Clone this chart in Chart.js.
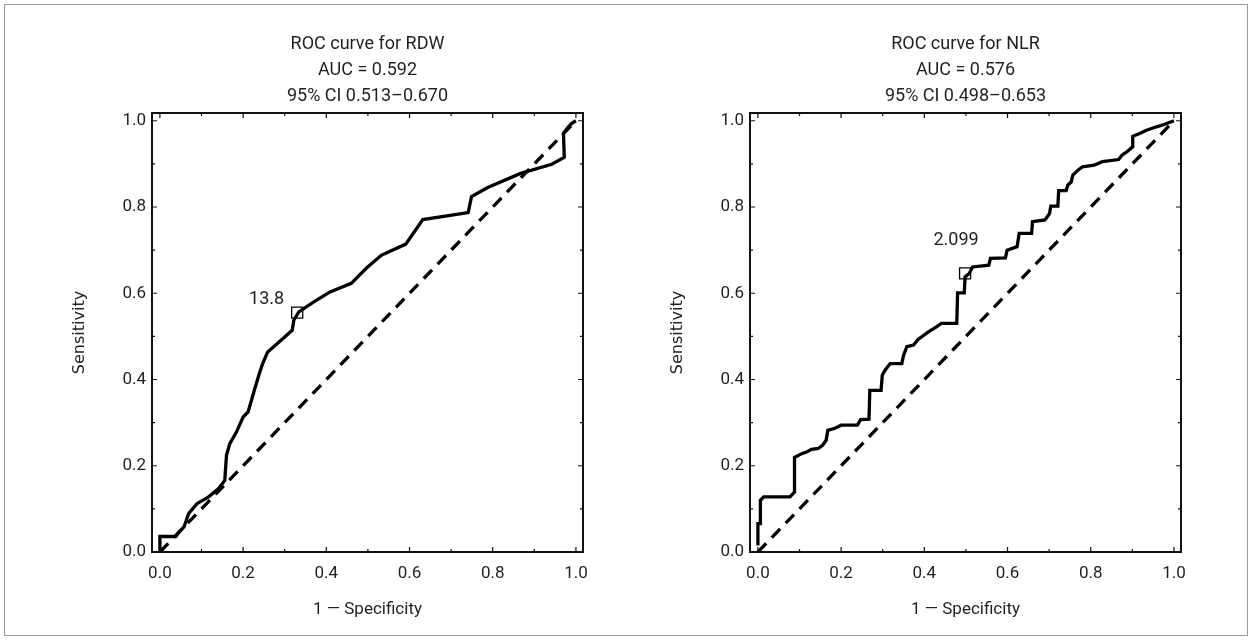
<!DOCTYPE html>
<html>
<head>
<meta charset="utf-8">
<script src="https://cdn.jsdelivr.net/npm/chart.js@4.4.1/dist/chart.umd.min.js"></script>
<style>
  html, body { margin: 0; padding: 0; background: #fff; }
  #frame { position: absolute; left: 4px; top: 4px; width: 1242px; height: 630px; border: 1.5px solid #9a9a9a; }
  .box { position: absolute; top: 0; width: 600px; height: 640px; }
</style>
</head>
<body>
<div id="frame"></div>
<div class="box" style="left:0"><canvas id="rdw-chart"></canvas></div>
<div class="box" style="left:598px"><canvas id="nlr-chart"></canvas></div>
<script>
// axis ticks
const tickValues = [0, 0.2, 0.4, 0.6, 0.8, 1.0];
const minorTicks = [0.1, 0.3, 0.5, 0.7, 0.9];

// reference diagonal
const chanceLine = [0, 1];

// ROC for RDW (1 - specificity, sensitivity)
const rdwFpr = [0.0, 0.0, 0.038, 0.046, 0.058, 0.069, 0.089, 0.117, 0.141, 0.156, 0.160, 0.168, 0.184, 0.200,
  0.212, 0.227, 0.239, 0.247, 0.259, 0.283, 0.318, 0.322, 0.334, 0.370, 0.409, 0.460, 0.496, 0.532, 0.591,
  0.632, 0.741, 0.749, 0.788, 0.867, 0.942, 0.972, 0.970, 0.982, 0.990, 1.0];
const rdwSens = [0.0, 0.036, 0.036, 0.046, 0.058, 0.089, 0.112, 0.128, 0.147, 0.166, 0.224, 0.251, 0.278, 0.313,
  0.325, 0.375, 0.414, 0.437, 0.464, 0.484, 0.514, 0.538, 0.557, 0.580, 0.603, 0.623, 0.658, 0.688, 0.714,
  0.771, 0.787, 0.824, 0.845, 0.878, 0.899, 0.915, 0.971, 0.986, 0.994, 1.0];
const rdwCutoff = [0.330, 0.555];
const rdwCutoffLabel = '13.8';

// ROC for NLR
const nlrFpr = [0.0, 0.0, 0.006, 0.006, 0.014, 0.077, 0.088, 0.088, 0.105, 0.117, 0.129, 0.145, 0.156, 0.164,
  0.168, 0.185, 0.200, 0.239, 0.247, 0.267, 0.269, 0.296, 0.299, 0.306, 0.318, 0.346, 0.350, 0.358, 0.374,
  0.385, 0.409, 0.429, 0.441, 0.478, 0.480, 0.496, 0.498, 0.508, 0.516, 0.555, 0.559, 0.595, 0.599, 0.623,
  0.628, 0.658, 0.660, 0.690, 0.701, 0.704, 0.721, 0.723, 0.741, 0.745, 0.753, 0.757, 0.770, 0.780, 0.808,
  0.828, 0.867, 0.875, 0.887, 0.901, 0.901, 0.919, 0.934, 0.958, 0.978, 1.0];
const nlrSens = [0.015, 0.066, 0.066, 0.120, 0.128, 0.128, 0.139, 0.219, 0.228, 0.232, 0.238, 0.240, 0.248, 0.259,
  0.282, 0.287, 0.294, 0.294, 0.307, 0.308, 0.375, 0.375, 0.410, 0.422, 0.437, 0.437, 0.456, 0.476, 0.480,
  0.493, 0.510, 0.522, 0.530, 0.530, 0.601, 0.601, 0.638, 0.646, 0.661, 0.665, 0.681, 0.682, 0.700, 0.708,
  0.739, 0.739, 0.766, 0.770, 0.785, 0.802, 0.802, 0.838, 0.838, 0.851, 0.858, 0.874, 0.886, 0.893, 0.897,
  0.905, 0.910, 0.920, 0.928, 0.940, 0.964, 0.971, 0.978, 0.986, 0.992, 1.0];
const nlrCutoff = [0.498, 0.646];
const nlrCutoffLabel = '2.099';

const ink = '#231f20';
const textFont = "Roboto, 'Open Sans', sans-serif";

const frameTicks = {
    id: 'frameTicks',
    afterDatasetsDraw(chart, args, opts) {
        const { ctx, chartArea: a, scales: { x, y } } = chart;
        ctx.save();
        ctx.strokeStyle = '#111';
        ctx.lineWidth = 1.2;
        const mark = (vals, len) => {
            vals.forEach((v) => {
                const px = x.getPixelForValue(v);
                const py = y.getPixelForValue(v);
                ctx.beginPath();
                ctx.moveTo(px, a.bottom); ctx.lineTo(px, a.bottom - len);
                ctx.moveTo(px, a.top); ctx.lineTo(px, a.top + len);
                ctx.moveTo(a.left, py); ctx.lineTo(a.left + len, py);
                ctx.moveTo(a.right, py); ctx.lineTo(a.right - len, py);
                ctx.stroke();
            });
        };
        mark(tickValues, 5);
        mark(minorTicks, 3);
        ctx.lineWidth = 2;
        ctx.strokeRect(a.left, a.top, a.right - a.left, a.bottom - a.top);

        // cut-off label next to the marker
        const mx = x.getPixelForValue(opts.at[0]);
        const my = y.getPixelForValue(opts.at[1]);
        ctx.fillStyle = ink;
        ctx.font = `18px ${textFont}`;
        ctx.textAlign = opts.align;
        ctx.textBaseline = 'middle';
        ctx.fillText(opts.text, mx + opts.dx, my + opts.dy);
        ctx.restore();
    },
};

function rocChart(canvasId, titleLines, fpr, sens, cutoff, cutoffLabel, labelPos, rightPad) {
    const curve = fpr.map((v, i) => ({ x: v, y: sens[i] }));
    new Chart(document.getElementById(canvasId), {
        type: 'line',
        data: {
            datasets: [
                {
                    data: curve,
                    borderColor: '#000',
                    borderWidth: 3.3,
                    pointRadius: 0,
                    tension: 0,
                    borderJoinStyle: 'miter',
                },
                {
                    data: chanceLine.map((v) => ({ x: v, y: v })),
                    borderColor: '#000',
                    borderWidth: 3.3,
                    borderDash: [12, 8],
                    pointRadius: 0,
                },
                {
                    type: 'scatter',
                    data: [{ x: cutoff[0], y: cutoff[1] }],
                    pointStyle: 'rect',
                    pointRadius: 7.8,
                    borderColor: '#000',
                    borderWidth: 1.3,
                    backgroundColor: 'rgba(0,0,0,0)',
                },
            ],
        },
        options: {
            responsive: true,
            maintainAspectRatio: false,
            animation: false,
            events: [],
            layout: { padding: { left: 0, right: rightPad, top: 0, bottom: 0 } },
            plugins: {
                legend: { display: false },
                tooltip: { enabled: false },
                title: {
                    display: true,
                    text: titleLines,
                    fullSize: false,
                    color: ink,
                    font: { family: textFont, size: 18, weight: 'normal', lineHeight: 26 / 18 },
                    padding: { top: 31, bottom: 4 },
                },
                frameTicks: {
                    at: cutoff,
                    text: cutoffLabel,
                    ...labelPos,
                },
            },
            scales: {
                x: {
                    type: 'linear',
                    min: -0.019,
                    max: 1.017,
                    afterBuildTicks: (s) => { s.ticks = tickValues.map((v) => ({ value: v })); },
                    afterFit: (s) => { s.height = 88; },
                    grid: { display: false, drawTicks: false },
                    border: { display: false },
                    ticks: {
                        padding: 12,
                        color: ink,
                        font: { family: textFont, size: 17 },
                        callback: (v) => v.toFixed(1),
                    },
                    title: {
                        display: true,
                        text: '1 \u2014 Specificity',
                        color: ink,
                        font: { family: textFont, size: 17 },
                        padding: { top: 0, bottom: 20 },
                    },
                },
                y: {
                    type: 'linear',
                    min: 0,
                    max: 1.018,
                    afterBuildTicks: (s) => { s.ticks = tickValues.map((v) => ({ value: v })); },
                    afterFit: (s) => { s.width = 152; },
                    grid: { display: false, drawTicks: false },
                    border: { display: false },
                    ticks: {
                        padding: 6,
                        color: ink,
                        font: { family: textFont, size: 17 },
                        callback: (v) => v.toFixed(1),
                    },
                    title: {
                        display: true,
                        text: 'Sensitivity',
                        color: ink,
                        font: { family: "'DejaVu Sans', sans-serif", size: 16 },
                        padding: { top: 70, bottom: 0 },
                    },
                },
            },
        },
        plugins: [frameTicks],
    });
}

rocChart('rdw-chart', ['ROC curve for RDW', 'AUC = 0.592', '95% CI 0.513\u20130.670'],
    rdwFpr, rdwSens, rdwCutoff, rdwCutoffLabel, { dx: -13, dy: -13, align: 'right' }, 10);
rocChart('nlr-chart', ['ROC curve for NLR', 'AUC = 0.576', '95% CI 0.498\u20130.653'],
    nlrFpr, nlrSens, nlrCutoff, nlrCutoffLabel, { dx: -9, dy: -33, align: 'center' }, 9);
</script>
</body>
</html>
